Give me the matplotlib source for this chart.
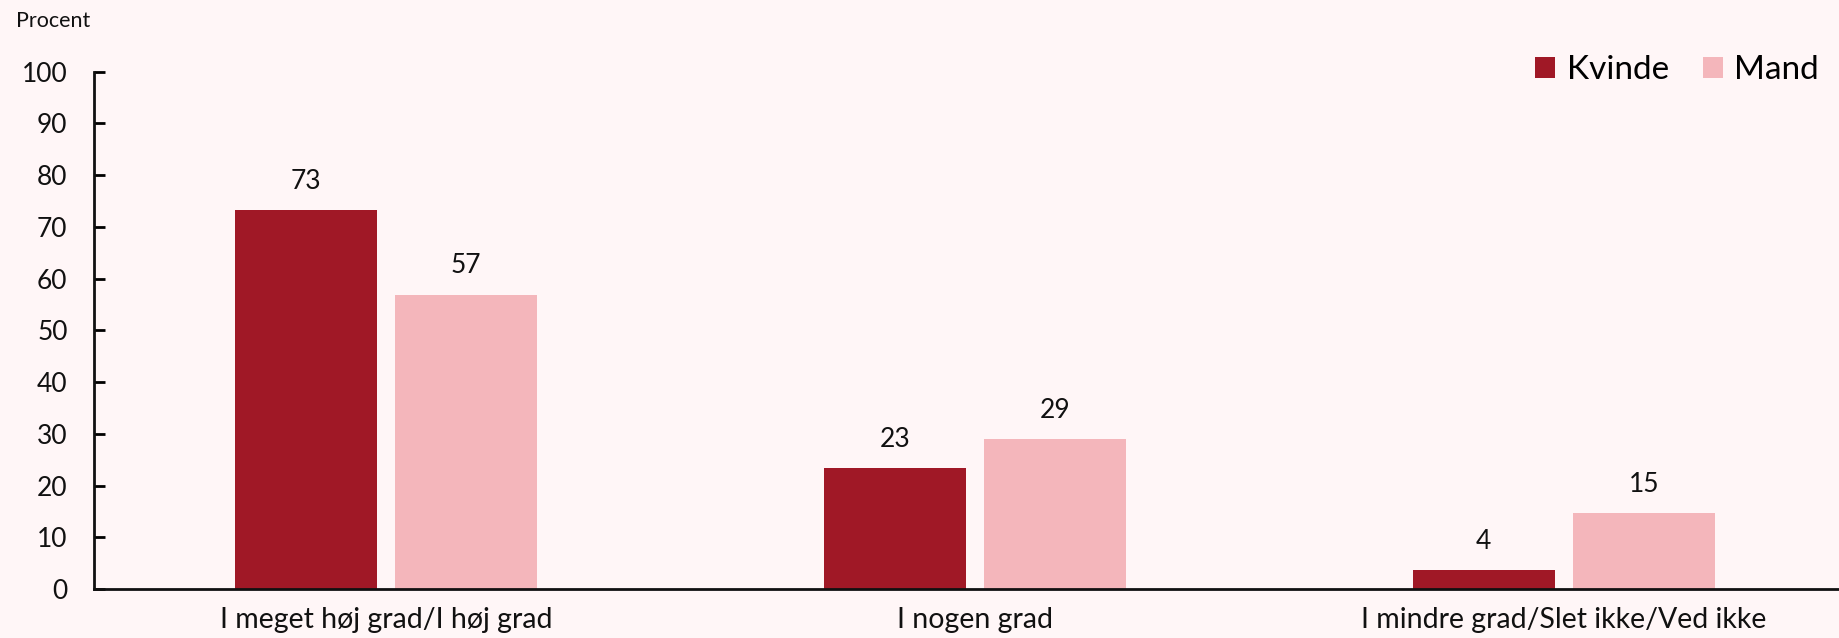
import matplotlib
matplotlib.use("Agg")
import matplotlib.pyplot as plt
import numpy as np

categories = ["I meget høj grad/I høj grad", "I nogen grad", "I mindre grad/Slet ikke/Ved ikke"]
kvinde = [73.2, 23.3, 3.6]
mand = [56.8, 28.9, 14.6]
kvinde_labels = ["73", "23", "4"]
mand_labels = ["57", "29", "15"]
yticks = [0, 10, 20, 30, 40, 50, 60, 70, 80, 90, 100]

bg = "#FFF6F7"
c_k = "#A01826"
c_m = "#F4B6BB"

plt.rcParams['font.family'] = ['Lato', 'DejaVu Sans']

fig = plt.figure(figsize=(18.39, 6.38), dpi=100, facecolor=bg)
ax = fig.add_axes([0.0511, 0.0768, 0.9489, 0.811])
ax.set_facecolor(bg)

x = np.arange(len(categories))
w = 0.241
off = 0.136
b1 = ax.bar(x - off, kvinde, w, color=c_k, label="Kvinde")
b2 = ax.bar(x + off, mand, w, color=c_m, label="Mand")

for rects, labs in ((b1, kvinde_labels), (b2, mand_labels)):
    for r, l in zip(rects, labs):
        ax.annotate(l, (r.get_x() + r.get_width() / 2, r.get_height()),
                    xytext=(0, 12), textcoords="offset points",
                    ha="center", va="bottom", fontsize=19, color="#111111")

ax.set_xlim(-0.496, 2.467)
ax.set_ylim(0, 100)
ax.set_yticks(yticks)
ax.set_yticklabels([str(t) for t in yticks], fontsize=19, color="#111111")
ax.set_xticks(x)
ax.set_xticklabels(categories, fontsize=20.5, color="#111111")
ax.tick_params(axis="y", direction="in", length=8, width=2, pad=19)
ax.tick_params(axis="x", length=0, pad=13)
for s in ("top", "right"):
    ax.spines[s].set_visible(False)
for s in ("left", "bottom"):
    ax.spines[s].set_linewidth(2)
    ax.spines[s].set_color("#111111")

fig.text(16 / 1839, 1 - 27 / 638, "Procent", fontsize=15.5, color="#111111", va="baseline", ha="left")

leg = ax.legend(loc="upper right", bbox_to_anchor=(1.0, 1.07), ncol=2, frameon=False,
                fontsize=24, handlelength=0.6, handleheight=0.6, handletextpad=0.35,
                columnspacing=1.0, borderaxespad=0.2)

fig.savefig("out.png", dpi=100, facecolor=bg)
